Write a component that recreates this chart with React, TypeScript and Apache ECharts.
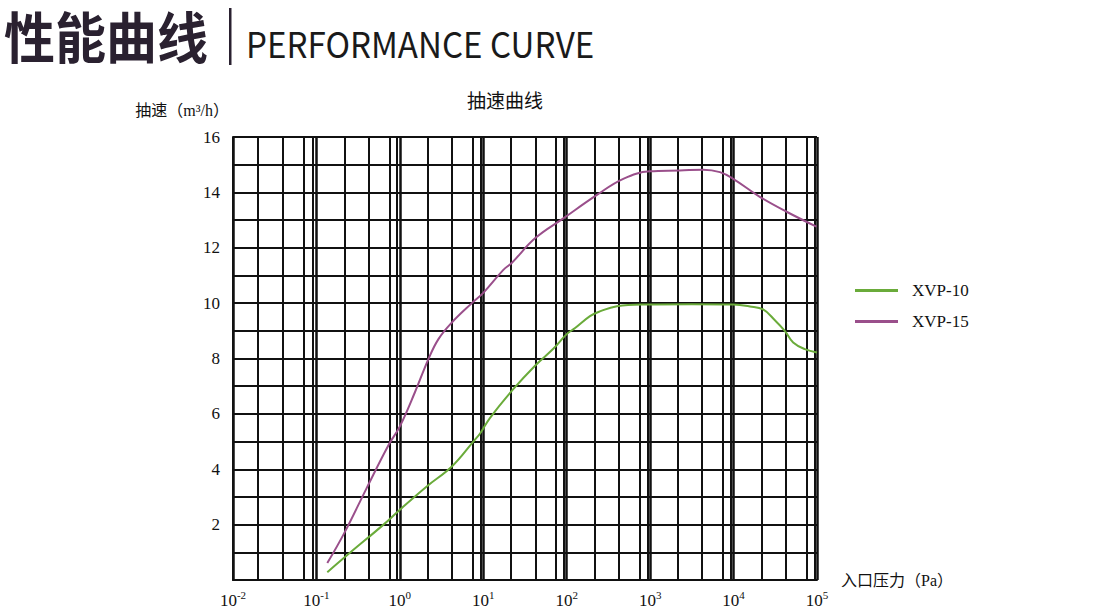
import React, { useEffect, useRef } from "react";
import * as echarts from "echarts";

// ---- data ----
const seriesNames = ["XVP-10", "XVP-15"];
const seriesColors = ["#6aab3a", "#9a4f8b"];

// XVP-10 (green): inlet pressure (Pa) and pumping speed (m³/h)
const xvp10Pressure = [0.135, 0.254, 0.637, 1.0, 2.1, 4.2, 7.6, 9.2, 12, 23, 42, 69, 100, 126, 190, 240, 400, 910, 3160, 9900, 15700, 22600, 31300, 41100, 51800, 71400, 100000];
const xvp10Speed = [0.28, 0.99, 2.0, 2.54, 3.38, 4.1, 5.0, 5.3, 5.85, 6.9, 7.75, 8.35, 8.88, 9.1, 9.53, 9.68, 9.89, 9.95, 9.96, 9.95, 9.88, 9.77, 9.38, 9.0, 8.58, 8.34, 8.22];

// XVP-15 (purple)
const xvp15Pressure = [0.135, 0.217, 0.4, 0.73, 1.0, 1.52, 2.2, 2.9, 4.2, 7.3, 10, 17.4, 21.9, 41.7, 91, 228, 476, 993, 2275, 4330, 6860, 9890, 20600, 43200, 98600];
const xvp15Speed = [0.61, 1.71, 3.32, 4.87, 5.55, 6.79, 7.98, 8.7, 9.3, 10.0, 10.37, 11.2, 11.45, 12.34, 13.06, 13.9, 14.49, 14.76, 14.79, 14.82, 14.73, 14.49, 13.84, 13.3, 12.76];

// axis ranges / ticks
const xMin = 0.01;
const xMax = 100000;
const yMin = 0;
const yMax = 16;
const yStep = 1;
const decadeExponents = [-2, -1, 0, 1, 2, 3, 4];
const minorGridMultipliers = [2.16, 4.2, 7.48, 9.29];

const headerCn = "性能曲线";
const headerEn = "PERFORMANCE CURVE";
const chartTitle = "抽速曲线";
const yName = "抽速（m³/h）";
const xName = "入口压力（Pa）";

const zip = (xs: number[], ys: number[]) => xs.map((x, i) => [x, ys[i]]);

export default function App() {
  const ref = useRef<HTMLDivElement>(null);

  useEffect(() => {
    if (!ref.current) return;
    const chart = echarts.init(ref.current, null, { renderer: "svg" });

    const minorLines: any[] = [];
    decadeExponents.forEach((e) => {
      minorGridMultipliers.forEach((m) => {
        minorLines.push({ xAxis: m * Math.pow(10, e) });
      });
    });

    const serif = "'Liberation Serif', 'Noto Sans CJK SC', serif";
    const ink = "#111111";

    const option: any = {
      animation: false,
      backgroundColor: "#ffffff",
      title: {
        text: chartTitle,
        left: 462,
        top: 85,
        textStyle: { fontFamily: "'Noto Sans CJK SC'", fontSize: 19, fontWeight: "normal", color: "#111" },
      },
      legend: {
        orient: "vertical",
        left: 850,
        top: 277,
        data: seriesNames,
        icon: "rect",
        itemWidth: 43,
        itemHeight: 3,
        itemGap: 14,
        textStyle: { fontFamily: serif, fontSize: 17, color: "#111", padding: [0, 0, 0, 9] },
      },
      grid: { left: 233, top: 137, right: 281, bottom: 26, containLabel: false },
      xAxis: {
        type: "log",
        logBase: 10,
        min: xMin,
        max: xMax,
        name: xName,
        nameLocation: "end",
        nameGap: 24,
        nameTextStyle: { fontFamily: serif, fontSize: 16, color: "#111", verticalAlign: "middle" },
        axisLine: { show: true, lineStyle: { color: ink, width: 2 } },
        axisTick: { show: false },
        splitLine: { show: true, lineStyle: { color: ink, width: 2.5 } },
        axisLabel: {
          margin: 9,
          formatter: (v: number) => {
            const e = Math.round(Math.log10(v));
            return "{b|10}{s|" + e + "}";
          },
          rich: {
            b: { fontFamily: serif, fontSize: 17, color: "#111", lineHeight: 20, verticalAlign: "bottom" },
            s: { fontFamily: serif, fontSize: 11, color: "#111", verticalAlign: "top" },
          },
        },
      },
      yAxis: {
        type: "value",
        min: yMin,
        max: yMax,
        interval: yStep,
        name: yName,
        nameLocation: "end",
        nameGap: 19,
        nameTextStyle: { fontFamily: serif, fontSize: 16, color: "#111", align: "right", verticalAlign: "bottom", padding: [0, 4, 0, 0] },
        axisLine: { show: true, lineStyle: { color: ink, width: 2 } },
        axisTick: { show: false },
        splitLine: { show: true, lineStyle: { color: ink, width: 2 } },
        axisLabel: {
          margin: 13,
          fontFamily: serif,
          fontSize: 17,
          color: "#111",
          formatter: (v: number) => (v > 0 && v % 2 === 0 ? String(v) : ""),
        },
      },
      graphic: [
        {
          type: "text",
          x: 4,
          y: 6,
          scaleY: 1.08,
          style: { text: headerCn, font: "bold 51px 'Noto Sans CJK SC'", fill: "#2a2130", verticalAlign: "top" },
        },
        {
          type: "rect",
          shape: { x: 229, y: 8, width: 2.5, height: 57 },
          style: { fill: "#2a2130" },
        },
        {
          type: "text",
          x: 246,
          y: 24,
          scaleX: 0.92,
          style: { text: headerEn, font: "36px 'Noto Sans CJK SC'", fill: "#1a1a1a", verticalAlign: "top" },
        },
      ],
      series: [
        {
          name: seriesNames[0],
          type: "line",
          data: zip(xvp10Pressure, xvp10Speed),
          smooth: 0.4,
          symbol: "none",
          lineStyle: { color: seriesColors[0], width: 2 },
          itemStyle: { color: seriesColors[0] },
          z: 5,
        },
        {
          name: seriesNames[1],
          type: "line",
          data: zip(xvp15Pressure, xvp15Speed),
          smooth: 0.4,
          symbol: "none",
          lineStyle: { color: seriesColors[1], width: 2 },
          itemStyle: { color: seriesColors[1] },
          z: 5,
        },
        {
          name: "grid",
          type: "line",
          data: [[1, -10]],
          symbol: "none",
          lineStyle: { opacity: 0 },
          silent: true,
          z: 1,
          markLine: {
            silent: true,
            symbol: "none",
            label: { show: false },
            lineStyle: { color: ink, width: 2, type: "solid" },
            data: minorLines,
          },
        },
      ],
    };

    chart.setOption(option);
    return () => chart.dispose();
  }, []);

  return (
    <div
      ref={ref}
      style={{ position: "fixed", left: 0, top: 0, width: 1098, height: 609, background: "#fff" }}
    />
  );
}
